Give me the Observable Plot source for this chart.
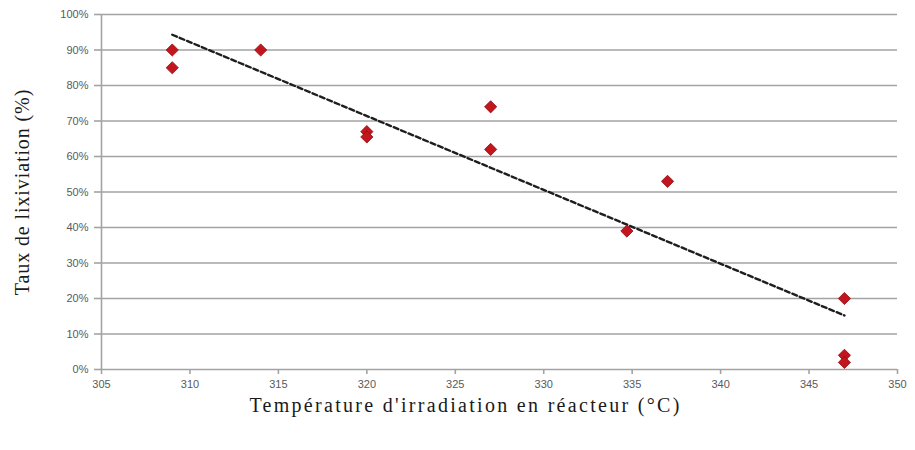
<!DOCTYPE html>
<html><head><meta charset="utf-8">
<script src="https://cdn.jsdelivr.net/npm/d3@7"></script>
<script src="https://cdn.jsdelivr.net/npm/@observablehq/plot@0.6"></script>
<style>
body{margin:0;background:#fff;}
</style>
</head><body><div id="chart"></div>
<script>
const temperatures = [309, 309, 314, 320, 320, 327, 327, 334.7, 337, 347, 347, 347];
const leachRates = [90, 85, 90, 67, 65.5, 74, 62, 39, 53, 20, 4, 2];
const xTicks = [305, 310, 315, 320, 325, 330, 335, 340, 345, 350];
const yTicks = [0, 10, 20, 30, 40, 50, 60, 70, 80, 90, 100];
const xTitle = "Température d'irradiation en réacteur (°C)";
const yTitle = "Taux de lixiviation (%)";

const data = temperatures.map((t, i) => ({t, r: leachRates[i]}));
const grid = "#a3a3a3";

const chart = Plot.plot({
  width: 915, height: 450,
  marginLeft: 101, marginRight: 18, marginTop: 14, marginBottom: 81,
  x: {domain: [305, 350]},
  y: {domain: [0, 100]},
  style: {background: "#fff", fontFamily: "'Liberation Sans', sans-serif"},
  marks: [
    Plot.ruleY(yTicks, {stroke: grid, strokeWidth: 1.6}),
    Plot.ruleX([305], {stroke: grid, strokeWidth: 1.6}),
    Plot.axisY({ticks: yTicks, tickSize: 7, tickPadding: 6, tickFormat: d => d + "%", label: null,
      stroke: grid, strokeWidth: 1.6, fill: "#5a5a5a", fontSize: 11}),
    Plot.axisX({ticks: xTicks, tickSize: 5, tickPadding: 6, tickFormat: d => String(d), label: null,
      stroke: grid, strokeWidth: 1.6, fill: "#5a5a5a", fontSize: 11}),
    Plot.linearRegressionY(data, {x: "t", y: "r", ci: 0, stroke: "#1e1e1e", strokeWidth: 2.4, strokeDasharray: "5,3"}),
    Plot.dot(data, {x: "t", y: "r", symbol: "diamond2", r: 5.5, fill: "#c3151d", stroke: "#8f0d12", strokeWidth: 0.8}),
    Plot.text([yTitle], {frameAnchor: "left", textAnchor: "middle", dx: -79, rotate: -90, fontSize: 20, fontFamily: "'Liberation Serif', serif", fill: "#1a1a1a"}),
    Plot.text([xTitle], {frameAnchor: "bottom", textAnchor: "middle", dx: -34, dy: 42, fontSize: 20, fontFamily: "'Liberation Serif', serif", fill: "#1a1a1a"})
  ]
});
const titles = d3.select(chart).selectAll("g[aria-label='text'] text");
titles.each(function() {
  const t = this.textContent;
  this.style.letterSpacing = t === xTitle ? "2.3px" : "0.9px";
});
document.getElementById("chart").appendChild(chart);
</script>
</body></html>
